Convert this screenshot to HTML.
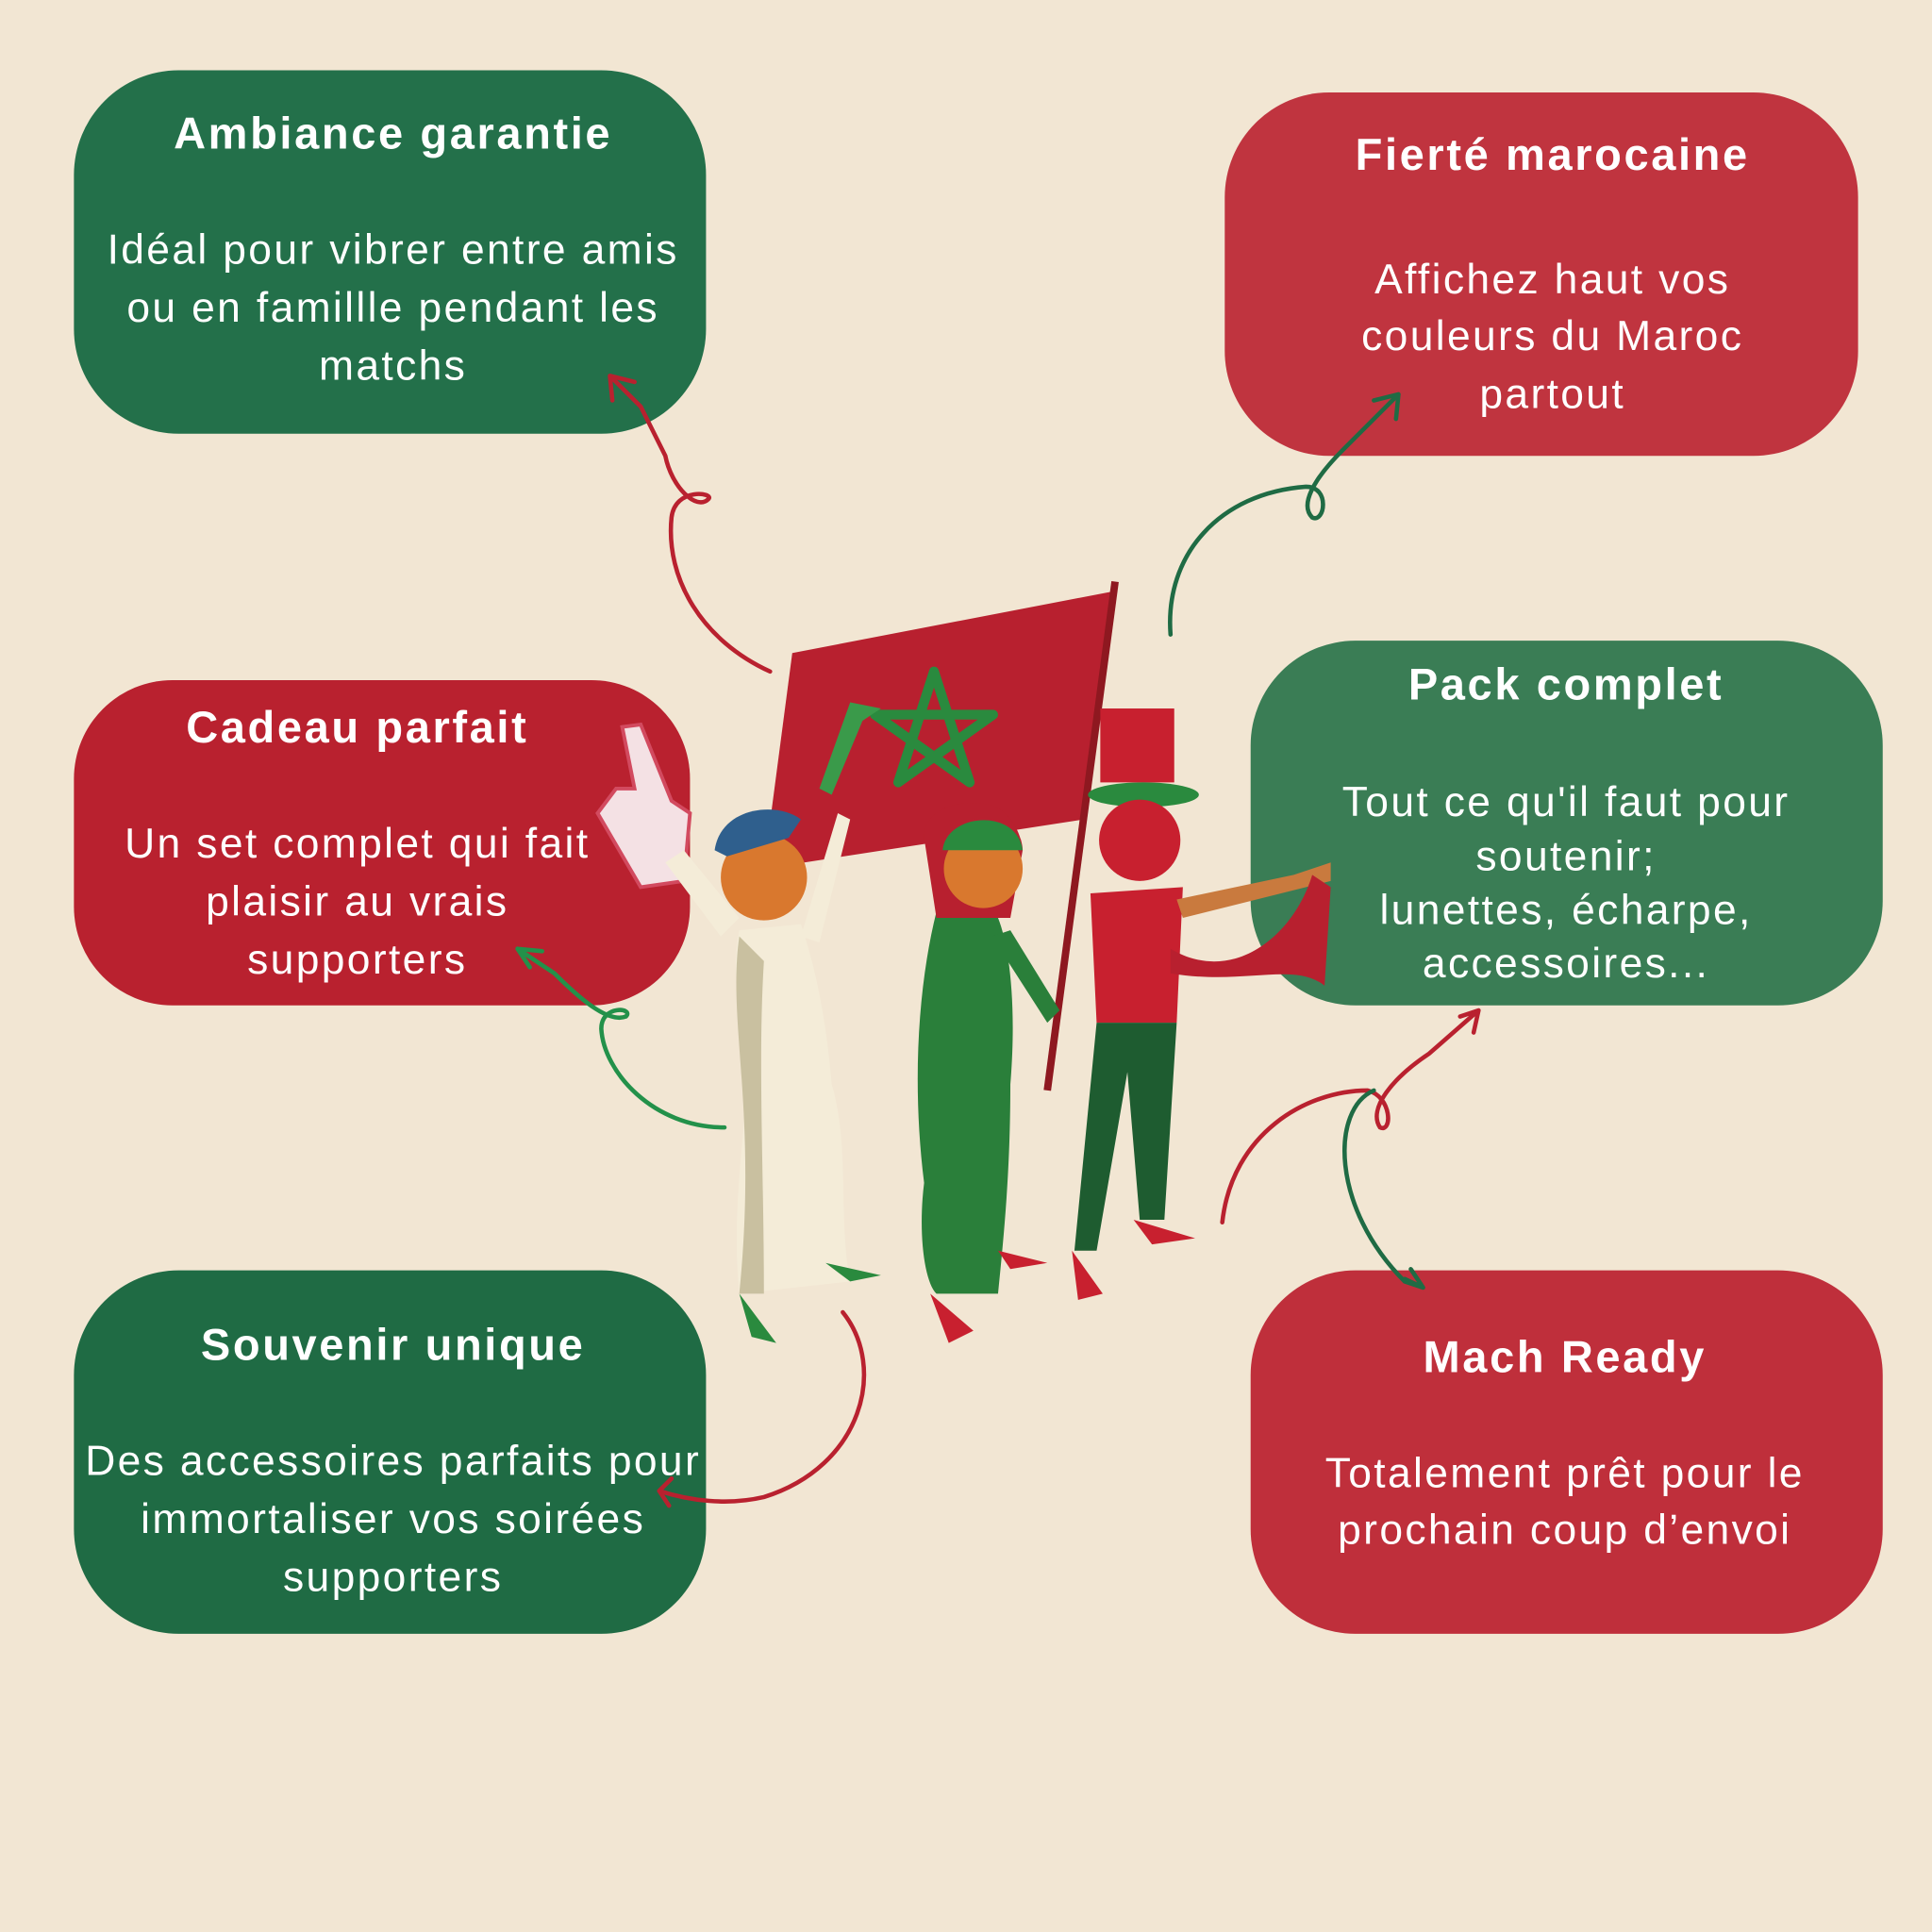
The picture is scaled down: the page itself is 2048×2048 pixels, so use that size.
<!DOCTYPE html>
<html><head><meta charset="utf-8"><style>
html,body{margin:0;padding:0;background:#f2e6d3;}
svg{display:block;}
text{font-family:"Liberation Sans",sans-serif;fill:#fff;text-anchor:middle;dominant-baseline:central;}
.t{font-weight:bold;font-size:36px;letter-spacing:2px;}
.b{font-size:34px;letter-spacing:1.8px;}
</style></head><body>
<svg width="2048" height="2048" viewBox="0 0 1568 1568" xmlns="http://www.w3.org/2000/svg">
<rect width="1568" height="1568" fill="#f2e6d3"/>
<rect x="60" y="57" width="513" height="295" rx="85" fill="#23704a"/>
<rect x="994" y="75" width="514" height="295" rx="85" fill="#c0343f"/>
<rect x="60" y="552" width="500" height="264" rx="80" fill="#b9212f"/>
<rect x="1015" y="520" width="513" height="296" rx="85" fill="#3a7d55"/>
<rect x="60" y="1031" width="513" height="295" rx="85" fill="#1f6b44"/>
<rect x="1015" y="1031" width="513" height="295" rx="85" fill="#bf2f3b"/>

<text class="t" x="319" y="108">Ambiance garantie</text>
<text class="b" x="319" y="203">Idéal pour vibrer entre amis</text>
<text class="b" x="319" y="250">ou en famillle pendant les</text>
<text class="b" x="319" y="297">matchs</text>

<text class="t" x="1260" y="125">Fierté marocaine</text>
<text class="b" x="1260" y="227">Affichez haut vos</text>
<text class="b" x="1260" y="273">couleurs du Maroc</text>
<text class="b" x="1260" y="320">partout</text>

<text class="t" x="290" y="590">Cadeau parfait</text>
<text class="b" x="290" y="685">Un set complet qui fait</text>
<text class="b" x="290" y="732">plaisir au vrais</text>
<text class="b" x="290" y="779">supporters</text>

<text class="t" x="1271" y="555">Pack complet</text>
<text class="b" x="1271" y="651">Tout ce qu'il faut pour</text>
<text class="b" x="1271" y="695">soutenir;</text>
<text class="b" x="1271" y="739">lunettes, écharpe,</text>
<text class="b" x="1271" y="782">accessoires...</text>

<text class="t" x="319" y="1091">Souvenir unique</text>
<text class="b" x="319" y="1186">Des accessoires parfaits pour</text>
<text class="b" x="319" y="1233">immortaliser vos soirées</text>
<text class="b" x="319" y="1280">supporters</text>

<text class="t" x="1270" y="1101">Mach Ready</text>
<text class="b" x="1270" y="1196">Totalement prêt pour le</text>
<text class="b" x="1270" y="1242">prochain coup d’envoi</text>

<g fill="none" stroke-width="3.5" stroke-linecap="round">
<path d="M625,545 C570,520 540,470 545,420 C548,395 580,400 575,405 C565,415 545,395 540,370 L520,330 L495,305 M495,305 L497,325 M495,305 L515,310" stroke="#b9212f"/>
<path d="M950,515 C945,450 990,400 1060,395 C1080,395 1075,425 1065,420 C1055,410 1065,390 1090,365 L1135,320 M1135,320 L1115,325 M1135,320 L1133,340" stroke="#1f6b44"/>
<path d="M588,915 C530,915 490,870 488,835 C488,815 515,818 508,825 C495,830 475,815 450,790 L420,770 M420,770 L430,785 M420,770 L440,772" stroke="#23914a"/>
<path d="M992,992 C1000,920 1060,885 1110,885 C1130,890 1130,920 1120,915 C1110,900 1130,875 1160,855 L1200,820 M1200,820 L1185,825 M1200,820 L1196,838" stroke="#b9212f"/>
<path d="M1115,885 C1080,900 1080,980 1140,1040 L1155,1045 M1155,1045 L1140,1038 M1155,1045 L1145,1030" stroke="#1f6b44"/>
<path d="M684,1065 C720,1110 700,1190 620,1215 C590,1222 560,1218 535,1210 M535,1210 L545,1200 M535,1210 L543,1222" stroke="#b9212f"/>
</g>

<polygon points="643,530 903,480 880,665 620,705" fill="#b8202f"/>
<polygon points="758,545 787,635 710,580 806,580 729,635" fill="none" stroke="#2a8a3e" stroke-width="8" stroke-linejoin="round"/>
<line x1="905" y1="472" x2="850" y2="885" stroke="#8e1820" stroke-width="6"/>
<path d="M505,590 L520,588 L545,650 L560,660 L555,715 L520,720 L485,660 L500,640 L515,640 Z" fill="#f4e1e4" stroke="#d24a5f" stroke-width="3"/>
<path d="M600,755 C590,800 610,850 605,900 C600,950 595,1000 600,1050 L690,1040 C680,990 690,930 675,880 C670,820 660,780 650,750 Z" fill="#f4ecd8"/>
<path d="M600,760 C590,830 615,900 600,1050 L620,1050 C620,950 615,860 620,780 Z" fill="#c9c0a0"/>
<path d="M585,760 L540,700 L555,690 L600,745 Z" fill="#f4ecd8"/>
<path d="M650,760 L680,660 L690,665 L665,765 Z" fill="#f4ecd8"/>
<circle cx="620" cy="712" r="35" fill="#d9782e"/>
<path d="M580,690 C585,655 630,650 650,665 L640,680 L590,695 Z" fill="#2f5f8d"/>
<path d="M600,1050 L630,1090 L610,1085 Z M670,1025 L715,1035 L690,1040 Z" fill="#2a8a3e"/>
<path d="M665,640 L690,570 L715,575 L700,585 L675,645 Z" fill="#3a9a4a"/>
<path d="M760,740 C745,800 740,880 750,960 C745,1000 750,1040 760,1050 L810,1050 C815,1000 820,950 820,880 C825,820 820,770 810,745 Z" fill="#2a7f3a"/>
<path d="M750,680 C750,660 770,650 795,652 C820,652 830,680 830,690 L820,745 L760,745 Z" fill="#b8202f"/>
<circle cx="798" cy="705" r="32" fill="#d9782e"/>
<path d="M765,690 C768,660 825,655 830,690 Z" fill="#2a8a3e"/>
<path d="M805,760 L850,830 L860,820 L820,755 Z" fill="#2a7f3a"/>
<path d="M755,1050 L790,1080 L770,1090 Z M810,1015 L850,1025 L820,1030 Z" fill="#c8202f"/>
<path d="M885,725 L960,720 L955,830 L890,830 Z" fill="#c8202f"/>
<path d="M890,830 L955,830 L945,990 L925,990 L915,870 L890,1015 L872,1015 Z" fill="#1e5c30"/>
<rect x="893" y="575" width="60" height="60" fill="#c8202f"/>
<ellipse cx="928" cy="645" rx="45" ry="10" fill="#2a8a3e"/>
<circle cx="925" cy="682" r="33" fill="#c8202f"/>
<path d="M955,730 L1050,710 L1080,700 L1080,715 L960,745 Z" fill="#c97a3e"/>
<path d="M950,770 C1000,800 1050,760 1065,710 L1080,720 L1075,800 C1050,780 1010,800 950,790 Z" fill="#b8202f"/>
<path d="M870,1015 L895,1050 L875,1055 Z M920,990 L970,1005 L935,1010 Z" fill="#c8202f"/>
</svg>
</body></html>
